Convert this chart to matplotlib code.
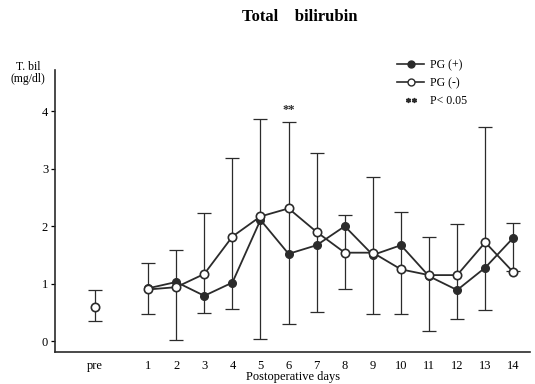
import matplotlib.pyplot as plt
from matplotlib.lines import Line2D
import numpy as np

plt.rcParams['font.family'] = ['Liberation Serif', 'DejaVu Serif']

days = list(range(1, 15))
day_labels = [str(d) for d in days]
pg_plus = [0.92, 1.03, 0.79, 1.02, 2.11, 1.52, 1.67, 2.00, 1.50, 1.67, 1.13, 0.89, 1.28, 1.80]
pg_minus = [0.90, 0.94, 1.17, 1.82, 2.17, 2.31, 1.90, 1.54, 1.54, 1.25, 1.15, 1.15, 1.72, 1.20]
err_low = [0.47, 0.02, 0.49, 0.56, 0.03, 0.30, 0.51, 0.90, 0.47, 0.48, 0.17, 0.38, 0.54, 1.22]
err_high = [1.36, 1.59, 2.23, 3.18, 3.86, 3.81, 3.27, 2.20, 2.86, 2.24, 1.82, 2.04, 3.73, 2.06]

pre_value = 0.60
pre_low, pre_high = 0.35, 0.89
pre_x = -0.9

sig_day = 6
sig_level = 4.02

col = '#2b2b2b'

fig = plt.figure(figsize=(5.35, 3.84), dpi=100)
ax = fig.add_axes([0.103, 0.083, 0.888, 0.735])

# error bars (one bar per day)
low = np.array(err_low)
high = np.array(err_high)
ax.errorbar(days, (low + high) / 2, yerr=(high - low) / 2, fmt='none',
            ecolor=col, elinewidth=0.9, capsize=5, capthick=0.9, zorder=1)
ax.errorbar([pre_x], [(pre_low + pre_high) / 2], yerr=[(pre_high - pre_low) / 2],
            fmt='none', ecolor=col, elinewidth=0.9, capsize=5, capthick=0.9, zorder=1)

ax.plot(days, pg_plus, '-o', color=col, lw=1.3, ms=5.5, mfc=col, mec=col, zorder=3)
ax.plot(days, pg_minus, '-o', color=col, lw=1.3, ms=6, mfc='white', mec=col,
        mew=1.2, zorder=4)
ax.plot([pre_x], [pre_value], 'o', ms=6, mfc='white', mec=col, mew=1.2, zorder=4)

ax.text(sig_day, sig_level, '**', ha='center', va='center', fontsize=9,
        fontweight='bold', color=col)

ax.set_xlim(-2.31, 14.6)
ax.set_ylim(-0.19, 4.72)
ax.set_xticks([pre_x] + days)
ax.set_xticklabels(['pre'] + day_labels, fontsize=9)
ax.tick_params(axis='x', length=0, pad=6)
ax.set_yticks([0, 1, 2, 3, 4])
ax.tick_params(axis='y', length=3, width=0.9, labelsize=9, pad=2)
for s in ['top', 'right']:
    ax.spines[s].set_visible(False)
for s in ['left', 'bottom']:
    ax.spines[s].set_linewidth(1.2)
    ax.spines[s].set_color(col)

ax.set_xlabel('Postoperative days', fontsize=9, labelpad=-1)
fig.text(0.052, 0.81, 'T. bil\n(mg/dl)', ha='center', va='center',
         fontsize=8.5, linespacing=0.95)
fig.text(0.56, 0.955, 'Total    bilirubin', ha='center', va='center',
         fontsize=12, fontweight='bold')

handles = [
    Line2D([], [], color=col, lw=1.2, marker='o', ms=5, mfc=col, mec=col),
    Line2D([], [], color=col, lw=1.2, marker='o', ms=5, mfc='white', mec=col),
    Line2D([], [], color=col, lw=0, marker='$**$', ms=7),
]
ax.legend(handles, ['PG (+)', 'PG (-)', 'P< 0.05'], loc='upper right',
          bbox_to_anchor=(0.89, 1.075), frameon=False, fontsize=8.5,
          handlelength=2.3, handletextpad=0.5, labelspacing=0.5)

fig.savefig('out.png', dpi=100)
